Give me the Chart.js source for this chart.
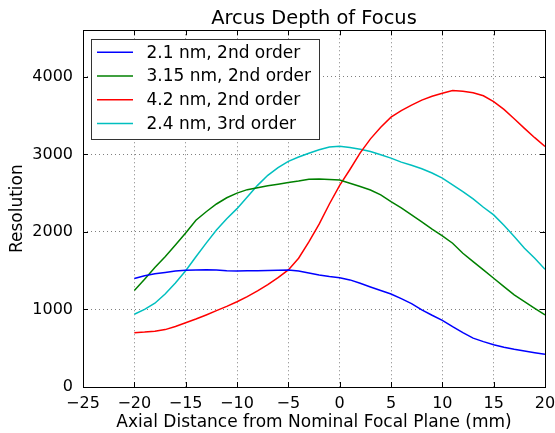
<!DOCTYPE html>
<html>
<head>
<meta charset="utf-8">
<script src="https://cdn.jsdelivr.net/npm/chart.js@4.4.1/dist/chart.umd.min.js"></script>
<style>
  html, body { margin: 0; padding: 0; background: #fff; }
</style>
</head>
<body>
<canvas id="chart" width="555" height="433"></canvas>
<script>
// axial distance from nominal focal plane (mm)
const distances = [-20,-19,-18,-17,-16,-15,-14,-13,-12,-11,-10,-9,-8,-7,-6,-5,-4,-3,-2,-1,0,
                   1,2,3,4,5,6,7,8,9,10,11,12,13,14,15,16,17,18,19,20];

const seriesNames = ['2.1 nm, 2nd order', '3.15 nm, 2nd order', '4.2 nm, 2nd order', '2.4 nm, 3rd order'];
const seriesColors = ['#0000ff', '#008000', '#ff0000', '#00bfbf'];

const res21 = [1400,1435,1460,1478,1495,1505,1510,1513,1510,1500,1495,1498,1500,1503,1507,1510,1495,1470,1445,1425,1410,
               1381,1338,1290,1245,1200,1140,1075,995,925,860,778,700,630,585,545,512,486,464,443,422];
const res315 = [1245,1390,1540,1680,1830,1985,2150,2260,2360,2440,2500,2545,2570,2595,2615,2637,2655,2680,2682,2675,2668,
                2628,2585,2540,2477,2390,2310,2220,2130,2035,1950,1854,1725,1617,1510,1402,1294,1187,1101,1015,929];
const res42 = [700,708,720,740,780,828,876,929,985,1040,1100,1165,1240,1320,1410,1510,1660,1870,2100,2360,2600,
               2805,3020,3200,3350,3480,3565,3635,3700,3750,3789,3823,3815,3795,3755,3680,3580,3460,3335,3215,3101];
const res24 = [938,1000,1080,1200,1340,1500,1680,1855,2025,2170,2300,2450,2600,2730,2830,2910,2965,3015,3060,3095,3105,
               3088,3067,3036,2994,2951,2900,2860,2815,2760,2693,2606,2520,2425,2318,2219,2085,1940,1789,1660,1518];

const xTicks = [-25,-20,-15,-10,-5,0,5,10,15,20];
const yTicks = [0,1000,2000,3000,4000];

const FONT = "'DejaVu Sans', 'Liberation Sans', sans-serif";
Chart.defaults.font.family = FONT;
Chart.defaults.color = '#000';

const allSeries = [res21, res315, res42, res24];
const datasets = allSeries.map((vals, i) => ({
  label: seriesNames[i],
  data: distances.map((d, j) => ({x: d, y: vals[j]})),
  borderColor: seriesColors[i],
  backgroundColor: seriesColors[i],
  borderWidth: 1.5,
  pointRadius: 0,
  tension: 0,
  fill: false
}));

function minusSign(v){ return v < 0 ? '\u2212' + Math.abs(v) : String(v); }

const framePlugin = {
  id: 'frame',
  afterDraw(chart){
    const {ctx, chartArea: a, scales: {x, y}} = chart;
    ctx.save();
    ctx.strokeStyle = '#000';
    ctx.lineWidth = 1;
    ctx.beginPath();
    x.ticks.forEach(t => {
      const px = Math.round(x.getPixelForValue(t.value)) + 0.5;
      ctx.moveTo(px, a.bottom); ctx.lineTo(px, a.bottom - 5);
      ctx.moveTo(px, a.top); ctx.lineTo(px, a.top + 5);
    });
    y.ticks.forEach(t => {
      const py = Math.round(y.getPixelForValue(t.value)) + 0.5;
      ctx.moveTo(a.left, py); ctx.lineTo(a.left + 5, py);
      ctx.moveTo(a.right, py); ctx.lineTo(a.right - 5, py);
    });
    ctx.stroke();
    ctx.strokeRect(Math.round(a.left) + 0.5, Math.round(a.top) + 0.5,
                   Math.round(a.right - a.left), Math.round(a.bottom - a.top));

    // legend, upper left inside the axes
    const bx = 91.5, by = 39.5, bw = 228, bh = 100;
    ctx.fillStyle = '#fff';
    ctx.fillRect(bx, by, bw, bh);
    ctx.strokeStyle = '#333';
    ctx.strokeRect(bx, by, bw, bh);
    ctx.font = '17px ' + FONT;
    ctx.textBaseline = 'middle';
    ctx.textAlign = 'left';
    chart.data.datasets.forEach((ds, i) => {
      const ry = 52.3 + i * 23.7;
      ctx.strokeStyle = ds.borderColor;
      ctx.lineWidth = 1.5;
      ctx.beginPath();
      ctx.moveTo(97, ry); ctx.lineTo(133, ry);
      ctx.stroke();
      ctx.fillStyle = '#000';
      ctx.fillText(ds.label, 146.5, ry + 1);
    });
    ctx.restore();
  }
};

new Chart(document.getElementById('chart'), {
  type: 'line',
  data: { datasets },
  plugins: [framePlugin],
  options: {
    responsive: false,
    animation: false,
    layout: { padding: { left: 0, right: 10, top: 0, bottom: 0 } },
    plugins: {
      legend: { display: false },
      tooltip: { enabled: false },
      title: {
        display: true,
        fullSize: false,
        text: 'Arcus Depth of Focus',
        font: { size: 19.4, weight: 'normal' },
        color: '#000',
        padding: { top: 7, bottom: 0 }
      }
    },
    scales: {
      x: {
        type: 'linear',
        min: -25, max: 20,
        afterBuildTicks: s => { s.ticks = xTicks.map(v => ({value: v})); },
        afterFit: s => { s.height = 46; s.paddingLeft = 0; s.paddingRight = 0; },
        ticks: { font: { size: 16 }, padding: 7, maxRotation: 0, callback: v => minusSign(v) },
        grid: { color: 'rgba(0,0,0,0.5)', lineWidth: 1, drawTicks: false },
        border: { display: false, dash: [1, 3] },
        title: { display: true, text: 'Axial Distance from Nominal Focal Plane (mm)', font: { size: 17 }, padding: { top: 0, bottom: 0 } }
      },
      y: {
        min: 0, max: 4600,
        afterBuildTicks: s => { s.ticks = yTicks.map(v => ({value: v})); },
        afterFit: s => { s.width = 83; s.paddingTop = 0; s.paddingBottom = 0; },
        ticks: { font: { size: 16 }, padding: 10, callback: v => String(v) },
        grid: { color: 'rgba(0,0,0,0.5)', lineWidth: 1, drawTicks: false },
        border: { display: false, dash: [1, 3] },
        title: { display: true, text: 'Resolution', font: { size: 17 }, padding: { top: 7.3, bottom: 0 } }
      }
    }
  }
});
</script>
</body>
</html>
